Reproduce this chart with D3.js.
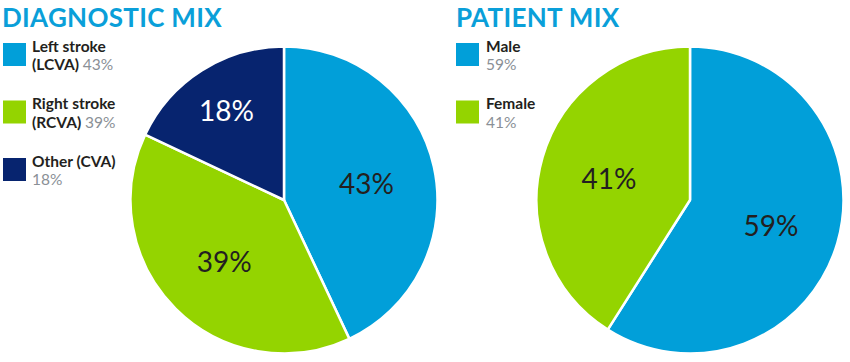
<!DOCTYPE html>
<html>
<head>
<meta charset="utf-8">
<script src="https://cdn.jsdelivr.net/npm/d3@7/dist/d3.min.js"></script>
<style>
html,body{margin:0;padding:0;background:#fff;}
svg{display:block;}
</style>
</head>
<body>
<svg id="chart" width="850" height="362"></svg>
<script>
// ---- data ----
const diagTitle = "DIAGNOSTIC MIX";
const diagCategories = ["Left stroke", "Right stroke", "Other (CVA)"];
const diagSubLabels = ["(LCVA)", "(RCVA)", ""];
const diagValues = [43, 39, 18];

const patTitle = "PATIENT MIX";
const patCategories = ["Male", "Female"];
const patSubLabels = ["", ""];
const patValues = [59, 41];

const blue = "#019fd9", green = "#94d400", navy = "#07246f";
const diagColors = [blue, green, navy];
const patColors = [blue, green];

const svg = d3.select("#chart");
const FONT = "Lato, 'Open Sans', sans-serif";

function drawPanel(cfg) {
  const g = svg.append("g");
  // title
  g.append("text")
    .attr("x", cfg.titleX).attr("y", 26.5)
    .attr("font-family", FONT).attr("font-weight", 700)
    .attr("font-size", 26).attr("fill", "#0a9fd9")
    .attr("letter-spacing", 0.3)
    .text(cfg.title);

  // legend
  cfg.categories.forEach((c, i) => {
    const y0 = 43 + i * 57.5;
    g.append("rect")
      .attr("x", cfg.boxX).attr("y", y0)
      .attr("width", 23).attr("height", 23)
      .attr("fill", cfg.colors[i]);
    g.append("text")
      .attr("x", cfg.textX).attr("y", y0 + 8.5)
      .attr("font-family", FONT).attr("font-weight", 700)
      .attr("font-size", 15.5).attr("fill", "#231f20")
      .text(c);
    const t = g.append("text")
      .attr("x", cfg.textX).attr("y", y0 + 27)
      .attr("font-family", FONT).attr("font-size", 15.5);
    if (cfg.sub[i]) {
      t.append("tspan").attr("font-weight", 700).attr("fill", "#231f20").text(cfg.sub[i] + " ");
    }
    t.append("tspan").attr("fill", "#8a9096").attr("font-weight", 400).text(cfg.values[i] + "%");
  });

  // pie
  const r = 153.5;
  const pg = g.append("g").attr("transform", `translate(${cfg.cx},${cfg.cy})`);
  const pie = d3.pie().sort(null).value(d => d)(cfg.values);
  const arc = d3.arc().innerRadius(0).outerRadius(r);
  pg.selectAll("path").data(pie).enter().append("path")
    .attr("d", arc)
    .attr("fill", (d, i) => cfg.colors[i])
    .attr("stroke", "#fff").attr("stroke-width", 2.5)
    .attr("stroke-linejoin", "round");
  pg.selectAll("text.lbl").data(pie).enter().append("text")
    .attr("class", "lbl")
    .attr("transform", d => {
      const lr = (d.data < 25 ? 0.7 : 0.55) * r;
      const la = d3.arc().innerRadius(lr).outerRadius(lr);
      const [x, y] = la.centroid(d);
      return `translate(${x},${y + 2})`;
    })
    .attr("text-anchor", "middle").attr("dy", "0.36em")
    .attr("font-family", FONT).attr("font-weight", 400)
    .attr("font-size", 28)
    .attr("fill", (d, i) => cfg.colors[i] === navy ? "#fff" : "#231f20")
    .text(d => d.data + "%");
}

drawPanel({
  title: diagTitle, titleX: 2, categories: diagCategories, sub: diagSubLabels,
  values: diagValues, colors: diagColors, boxX: 3, textX: 32, cx: 284, cy: 200
});
drawPanel({
  title: patTitle, titleX: 456, categories: patCategories, sub: patSubLabels,
  values: patValues, colors: patColors, boxX: 456, textX: 486, cx: 690, cy: 200
});
</script>
</body>
</html>
